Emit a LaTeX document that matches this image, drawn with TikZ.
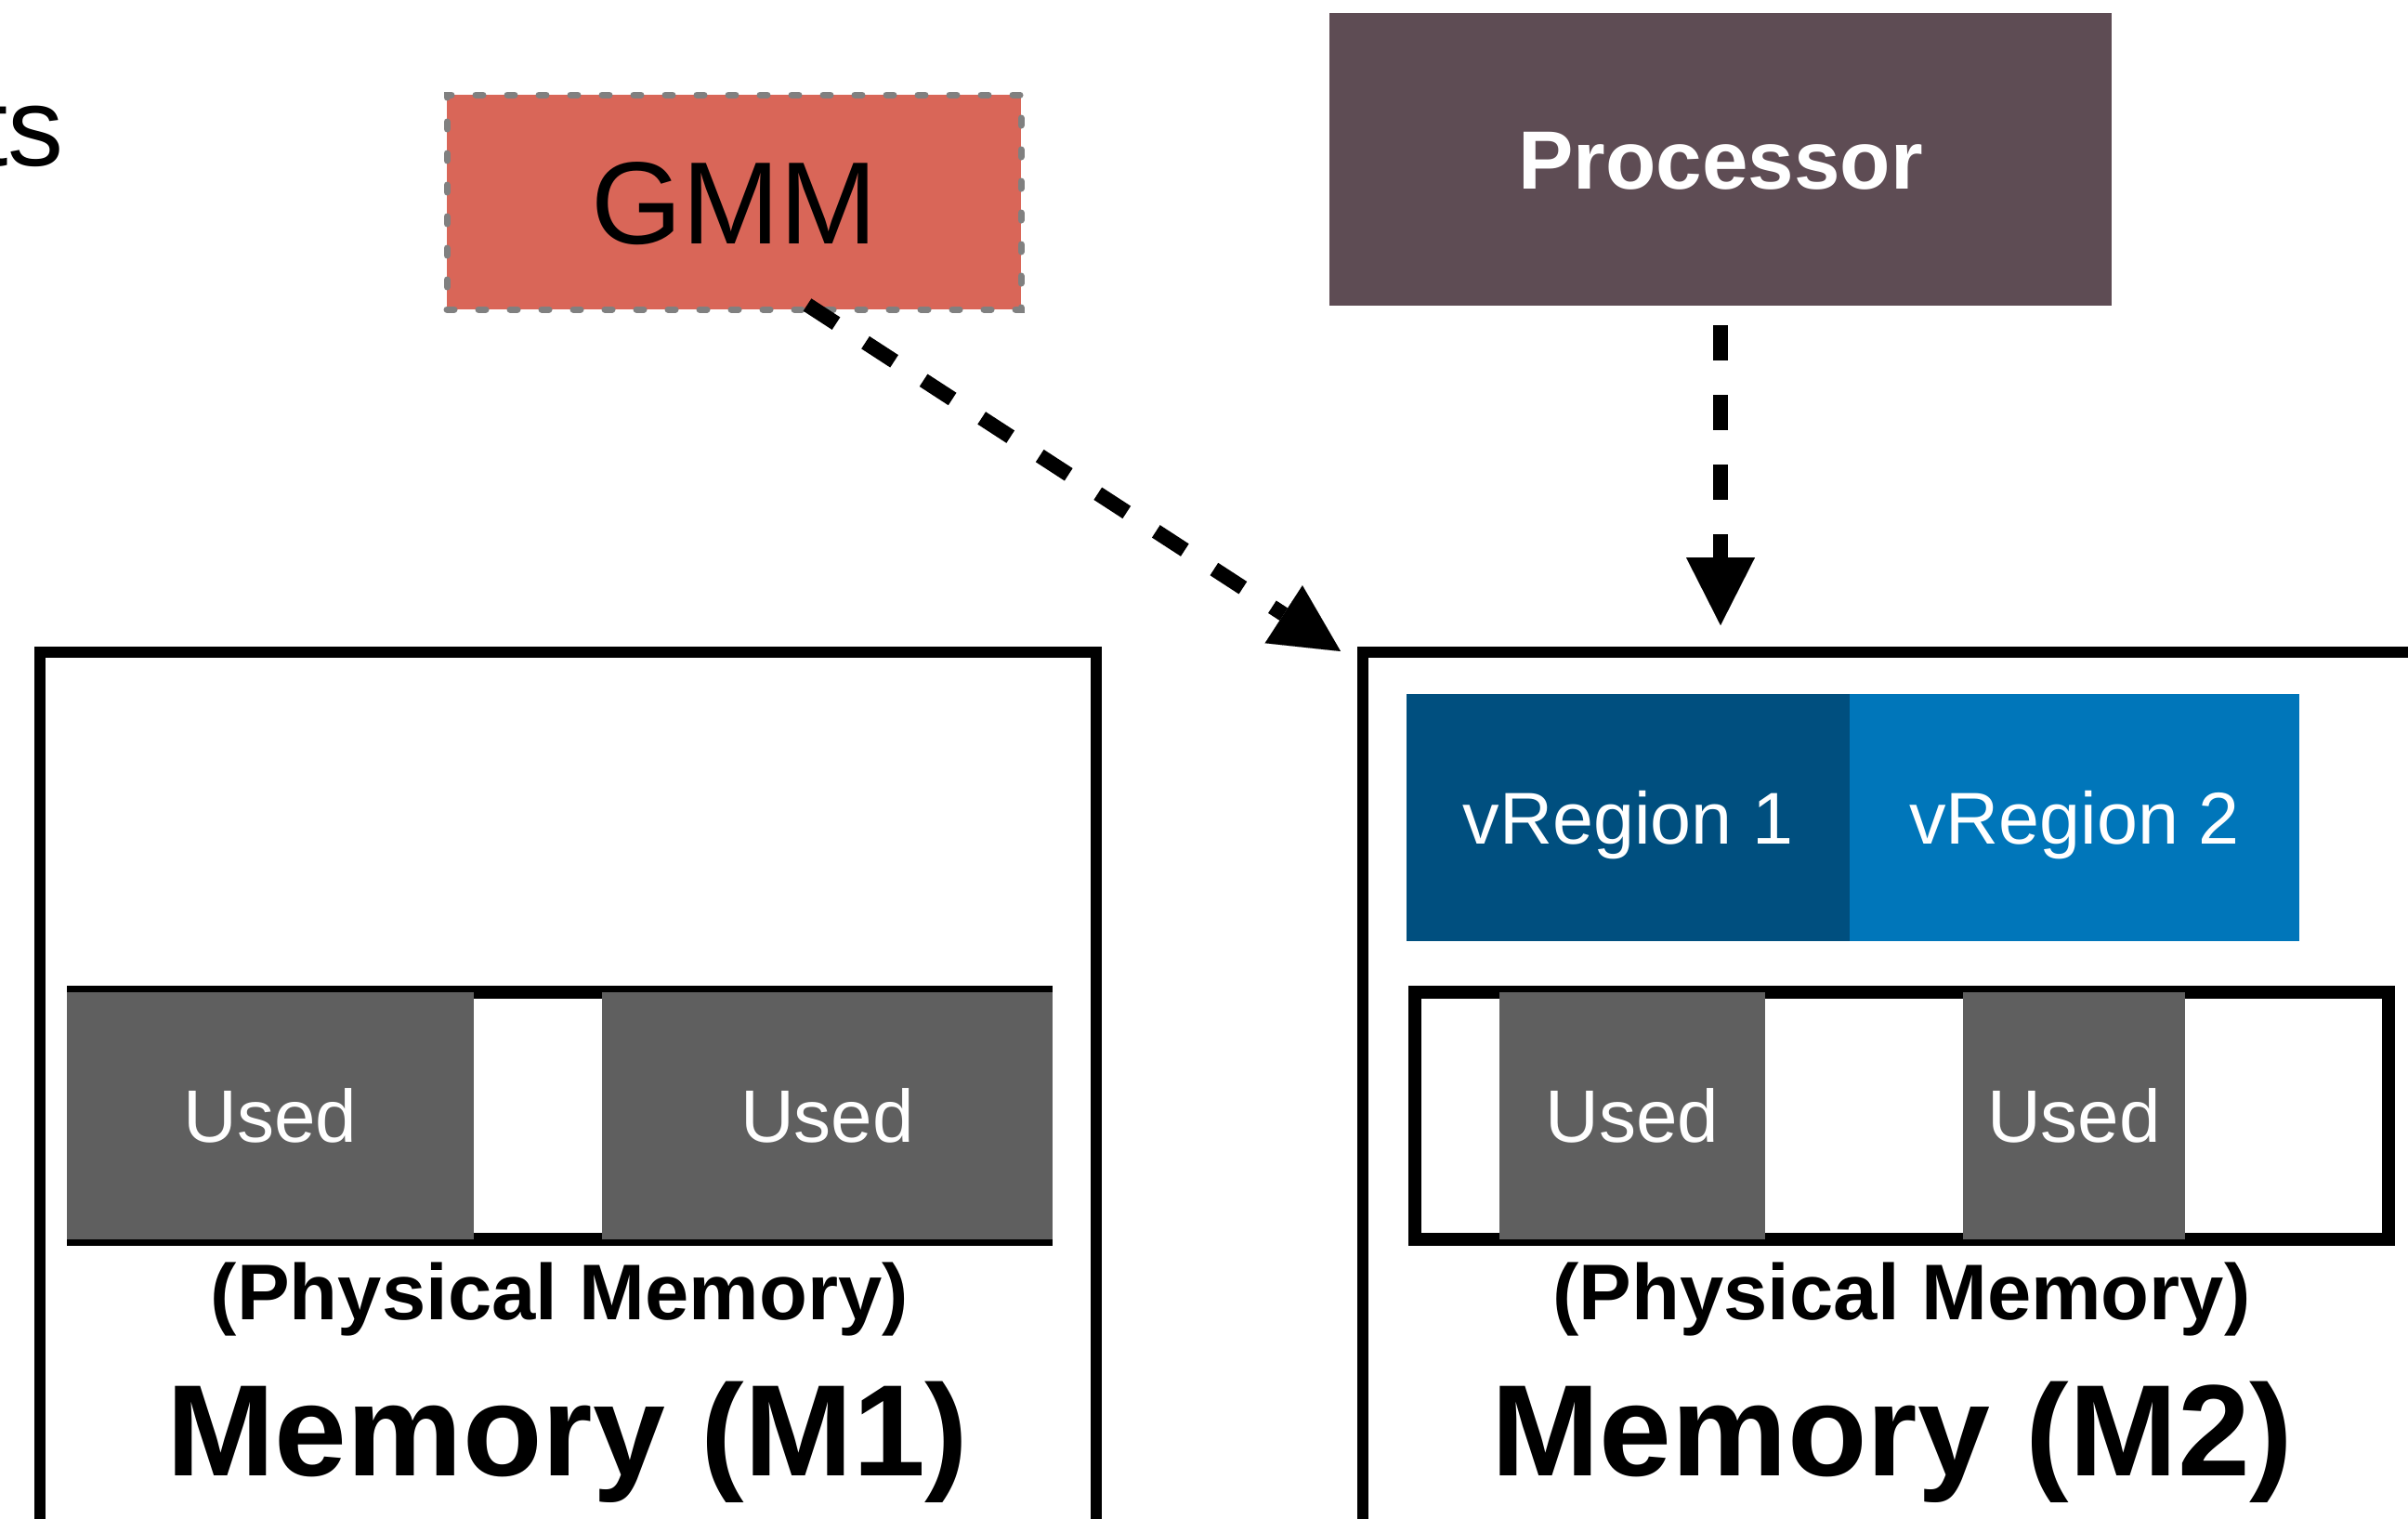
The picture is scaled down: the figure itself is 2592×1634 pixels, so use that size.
\documentclass[tikz,border=0pt]{standalone}
\usepackage{fontspec}
\setmainfont{Liberation Sans}
\usetikzlibrary{arrows.meta}
\definecolor{gmmred}{RGB}{217,102,88}
\definecolor{procbrown}{RGB}{94,76,84}
\definecolor{dotgray}{RGB}{128,128,128}
\definecolor{usedgray}{RGB}{95,95,95}
\definecolor{vrdark}{RGB}{0,79,127}
\definecolor{vrlight}{RGB}{0,118,186}
\begin{document}
\begin{tikzpicture}[x=0.5pt,y=-0.5pt,
  box/.style={rectangle, inner sep=0pt, outer sep=0pt},
  membox/.style={box, draw=black, line width=6pt, minimum height=499pt},
  barbox/.style={box, draw=black, line width=7pt, minimum height=133pt},
  usedbox/.style={box, fill=usedgray, text=white, font=\fontsize{40}{48}\selectfont, text height=28.8pt, text depth=0pt, minimum height=133pt},
  vregbox/.style={box, text=white, font=\fontsize{39.5}{47}\selectfont, text height=28.4pt, text depth=0pt, minimum height=133pt},
  gmmbox/.style={box, fill=gmmred, draw=dotgray, line width=3.5pt, line cap=round, dash pattern=on 4pt off 13pt, font=\fontsize{63}{75}\selectfont, text height=45.4pt, text depth=0pt},
  procbox/.style={box, fill=procbrown, text=white, font=\fontsize{44.5}{53}\selectfont\bfseries, text height=32pt, text depth=0pt},
  sublabel/.style={inner sep=0pt, anchor=base, font=\fontsize{42.5}{50}\selectfont\bfseries},
  memlabel/.style={inner sep=0pt, anchor=base, font=\fontsize{70}{84}\selectfont\bfseries},
  darr/.style={line width=8pt, -{Triangle[length=36.5pt,width=37pt,line width=0.01pt]}}
]
\useasboundingbox (0,0) rectangle (2592,1634);

% cut-off text at the left
\node[inner sep=0pt, anchor=base east, font=\fontsize{60}{72}\selectfont] (ts) at (69,178) {ts};

% top boxes
\node[gmmbox, minimum width=309pt, minimum height=115.5pt] (gmm) at (790,217.5) {GMM};
\node[procbox, minimum width=421pt, minimum height=157.5pt] (proc) at (1852,171.5) {Processor};

% memory boxes
\node[membox, minimum width=568.5pt] (m1) at (611.5,1201) {};
\node[membox, minimum width=596.5pt] (m2) at (2063.5,1201) {};

% M1 physical memory bar
\node[barbox, minimum width=523.5pt] (bar1) at (602.5,1201) {};
\node[usedbox, minimum width=219pt] (u11) at (291,1201) {Used};
\node[usedbox, minimum width=242.5pt] (u12) at (890.5,1201) {Used};

% M2 virtual regions
\node[vregbox, fill=vrdark, minimum width=238.5pt] (vr1) at (1752.5,880) {vRegion 1};
\node[vregbox, fill=vrlight, minimum width=242pt] (vr2) at (2233,880) {vRegion 2};

% M2 physical memory bar
\node[barbox, minimum width=524pt] (bar2) at (2047,1201) {};
\node[usedbox, minimum width=143pt] (u21) at (1757,1201) {Used};
\node[usedbox, minimum width=119.5pt] (u22) at (2232.5,1201) {Used};

% labels
\node[sublabel] (pm1) at (602.5,1420) {(Physical Memory)};
\node[memlabel] (ml1) at (611,1588) {Memory (M1)};
\node[sublabel] (pm2) at (2047,1420) {(Physical Memory)};
\node[memlabel] (ml2) at (2037,1588) {Memory (M2)};

% arrows
\draw[darr, dash pattern=on 18.5pt off 18.8pt]
  ([xshift=39.5pt,yshift=2.5pt]gmm.south) -- ([xshift=-12pt,yshift=0.5pt]m2.north west);
\draw[darr, dash pattern=on 19pt off 18.5pt, shorten >=14.5pt]
  ([yshift=-10.5pt]proc.south) -- (proc.south |- m2.north);
\end{tikzpicture}
\end{document}
